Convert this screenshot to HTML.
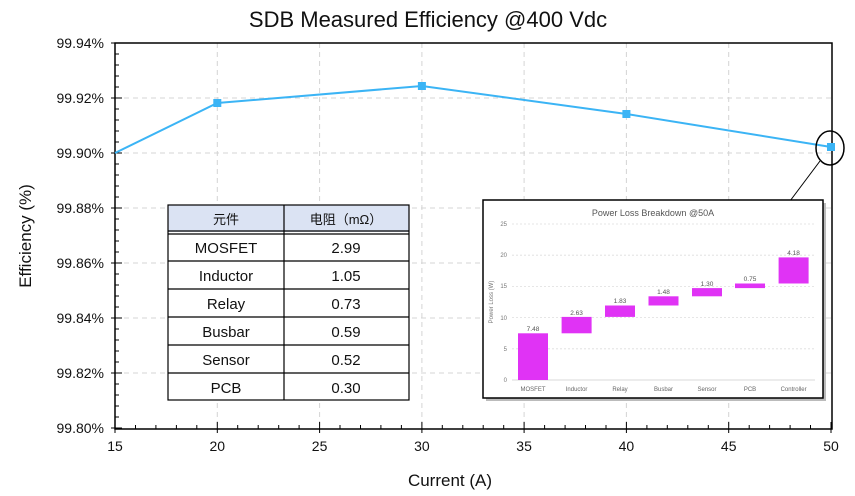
<!DOCTYPE html>
<html><head><meta charset="utf-8"><style>
body{margin:0;background:#fff}
svg text{font-family:"Liberation Sans","Noto Sans CJK SC",sans-serif}
</style></head><body>
<svg width="855" height="491" xmlns="http://www.w3.org/2000/svg">
<rect width="855" height="491" fill="#fff"/>
<text x="428" y="27" font-size="22" text-anchor="middle" fill="#111">SDB Measured Efficiency @400 Vdc</text>
<g stroke="#d4d4d4" stroke-dasharray="5,4" stroke-width="1">
<line x1="115" y1="98" x2="832" y2="98"/><line x1="115" y1="153" x2="832" y2="153"/>
<line x1="115" y1="208" x2="832" y2="208"/><line x1="115" y1="263" x2="832" y2="263"/>
<line x1="115" y1="318" x2="832" y2="318"/><line x1="115" y1="373" x2="832" y2="373"/>
<line x1="217.3" y1="43" x2="217.3" y2="429"/><line x1="319.6" y1="43" x2="319.6" y2="429"/>
<line x1="421.9" y1="43" x2="421.9" y2="429"/><line x1="524.1" y1="43" x2="524.1" y2="429"/>
<line x1="626.4" y1="43" x2="626.4" y2="429"/><line x1="728.7" y1="43" x2="728.7" y2="429"/>
</g>
<rect x="115" y="43" width="717" height="386" fill="none" stroke="#000" stroke-width="1.5"/>
<g stroke="#000" stroke-width="1">
<path d="M115,433V422M135.5,429V425M155.9,429V425M176.4,429V425M196.8,429V425M217.3,433V422M237.7,429V425M258.2,429V425M278.7,429V425M299.1,429V425M319.6,433V422M340,429V425M360.5,429V425M380.9,429V425M401.4,429V425M421.9,433V422M442.3,429V425M462.8,429V425M483.2,429V425M503.7,429V425M524.1,433V422M544.6,429V425M565.1,429V425M585.5,429V425M606,429V425M626.4,433V422M646.9,429V425M667.3,429V425M687.8,429V425M708.3,429V425M728.7,433V422M749.2,429V425M769.6,429V425M790.1,429V425M810.5,429V425M831,433V422"/>
<path d="M111,43H122M115,54H119M115,65H119M115,76H119M115,87H119M111,98H122M115,109H119M115,120H119M115,131H119M115,142H119M111,153H122M115,164H119M115,175H119M115,186H119M115,197H119M111,208H122M115,219H119M115,230H119M115,241H119M115,252H119M111,263H122M115,274H119M115,285H119M115,296H119M115,307H119M111,318H122M115,329H119M115,340H119M115,351H119M115,362H119M111,373H122M115,384H119M115,395H119M115,406H119M115,417H119M111,428H122"/>
</g>
<g font-size="14" fill="#111" text-anchor="end">
<text x="104" y="48">99.94%</text><text x="104" y="103">99.92%</text><text x="104" y="158">99.90%</text>
<text x="104" y="213">99.88%</text><text x="104" y="268">99.86%</text><text x="104" y="323">99.84%</text>
<text x="104" y="378">99.82%</text><text x="104" y="433">99.80%</text>
</g>
<g font-size="14" fill="#111" text-anchor="middle">
<text x="115" y="451">15</text><text x="217.3" y="451">20</text><text x="319.6" y="451">25</text>
<text x="421.9" y="451">30</text><text x="524.1" y="451">35</text><text x="626.4" y="451">40</text>
<text x="728.7" y="451">45</text><text x="831" y="451">50</text>
</g>
<text x="450" y="486" font-size="17" text-anchor="middle" fill="#111">Current (A)</text>
<text transform="translate(31,236) rotate(-90)" font-size="17" text-anchor="middle" fill="#111">Efficiency (%)</text>
<polyline points="115,153 217.3,103 421.9,86 626.4,114 831,147" fill="none" stroke="#3bb4f5" stroke-width="2"/>
<g fill="#3bb4f5"><rect x="213.3" y="99" width="8" height="8"/><rect x="417.9" y="82" width="8" height="8"/><rect x="622.4" y="110" width="8" height="8"/><rect x="827" y="143" width="8" height="8"/></g>
<ellipse cx="830" cy="148" rx="14" ry="17" fill="none" stroke="#000" stroke-width="1.5"/>
<line x1="820" y1="161" x2="790" y2="201" stroke="#000" stroke-width="1"/>
<rect x="168" y="205" width="241" height="27" fill="#dbe3f3"/>
<rect x="168" y="232" width="241" height="168" fill="#fff"/>
<g stroke="#000" stroke-width="1.2" fill="none">
<rect x="168" y="205" width="241" height="195"/>
<line x1="168" y1="231" x2="409" y2="231"/><line x1="168" y1="234" x2="409" y2="234"/>
<line x1="168" y1="261" x2="409" y2="261"/><line x1="168" y1="289" x2="409" y2="289"/>
<line x1="168" y1="317" x2="409" y2="317"/><line x1="168" y1="345" x2="409" y2="345"/>
<line x1="168" y1="373" x2="409" y2="373"/><line x1="284" y1="205" x2="284" y2="400"/>
</g>
<g font-size="15" fill="#111" text-anchor="middle">
<text x="226" y="224" font-size="13">元件</text><text x="346" y="224" font-size="13">电阻（mΩ）</text>
<text x="226" y="253">MOSFET</text><text x="346" y="253">2.99</text>
<text x="226" y="281">Inductor</text><text x="346" y="281">1.05</text>
<text x="226" y="309">Relay</text><text x="346" y="309">0.73</text>
<text x="226" y="337">Busbar</text><text x="346" y="337">0.59</text>
<text x="226" y="365">Sensor</text><text x="346" y="365">0.52</text>
<text x="226" y="393">PCB</text><text x="346" y="393">0.30</text>
</g>
<rect x="486" y="203" width="340" height="198" fill="#bbb"/>
<rect x="483" y="200" width="340" height="198" fill="#fff" stroke="#000" stroke-width="1.5"/>
<text x="653" y="216" font-size="9" text-anchor="middle" fill="#555">Power Loss Breakdown @50A</text>
<g stroke="#ddd" stroke-dasharray="2,2" stroke-width="0.8">
<line x1="512" y1="224" x2="815" y2="224"/><line x1="512" y1="255.2" x2="815" y2="255.2"/>
<line x1="512" y1="286.4" x2="815" y2="286.4"/><line x1="512" y1="317.6" x2="815" y2="317.6"/>
<line x1="512" y1="348.8" x2="815" y2="348.8"/>
</g>
<line x1="512" y1="380" x2="815" y2="380" stroke="#ccc" stroke-width="0.8"/>
<g font-size="6" fill="#777" text-anchor="end">
<text x="507" y="226">25</text><text x="507" y="257">20</text><text x="507" y="288">15</text>
<text x="507" y="320">10</text><text x="507" y="351">5</text><text x="507" y="382">0</text>
</g>
<text transform="translate(493,302) rotate(-90)" font-size="6" fill="#777" text-anchor="middle">Power Loss (W)</text>
<g fill="#e033f5">
<rect x="518" y="333.3" width="30" height="46.7"/>
<rect x="561.6" y="316.9" width="30" height="16.4"/>
<rect x="605" y="305.5" width="30" height="11.4"/>
<rect x="648.5" y="296.3" width="30" height="9.2"/>
<rect x="692" y="288.1" width="30" height="8.2"/>
<rect x="735" y="283.5" width="30" height="4.6"/>
<rect x="778.6" y="257.4" width="30" height="26.1"/>
</g>
<g font-size="6.5" fill="#555" text-anchor="middle">
<text x="533" y="331">7.48</text><text x="576.6" y="315">2.63</text><text x="620" y="303">1.83</text>
<text x="663.5" y="294">1.48</text><text x="707" y="286">1.30</text><text x="750" y="281">0.75</text>
<text x="793.6" y="255">4.18</text>
</g>
<g font-size="6" fill="#666" text-anchor="middle">
<text x="533" y="391">MOSFET</text><text x="576.6" y="391">Inductor</text><text x="620" y="391">Relay</text>
<text x="663.5" y="391">Busbar</text><text x="707" y="391">Sensor</text><text x="750" y="391">PCB</text>
<text x="793.6" y="391">Controller</text>
</g>
</svg>
</body></html>
